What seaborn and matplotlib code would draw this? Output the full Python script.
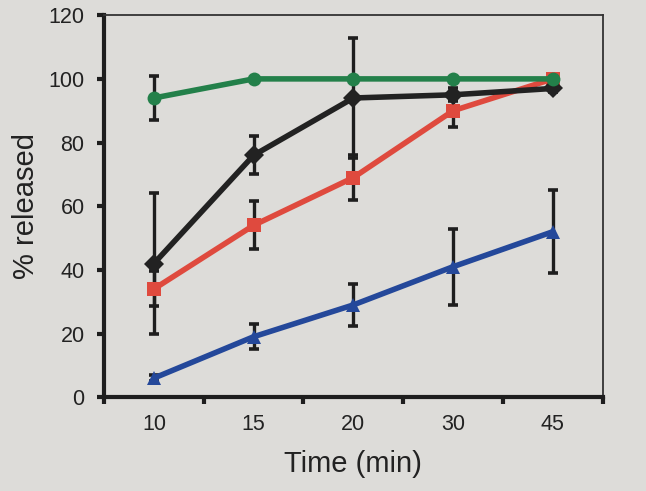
import matplotlib
matplotlib.use("Agg")
import matplotlib.pyplot as plt
import numpy as np
import pandas as pd
import seaborn as sns

# Sampling times (categorical x positions)
times = ["10", "15", "20", "30", "45"]

# Mean % released per formulation and its standard deviation
green_mean = [94, 100, 100, 100, 100]
green_sd = [7, 0, 0, 0, 0]
black_mean = [42, 76, 94, 95, 97]
black_sd = [22, 6, 19, 2, 1]
red_mean = [34, 54, 69, 90, 100]
red_sd = [5.5, 7.5, 7, 5, 1]
blue_mean = [6, 19, 29, 41, 52]
blue_sd = [1, 4, 6.5, 12, 13]

series = [
    ("A", red_mean, red_sd, "#df4a3e", "s"),
    ("B", black_mean, black_sd, "#222222", "D"),
    ("C", blue_mean, blue_sd, "#24489a", "^"),
    ("D", green_mean, green_sd, "#23804a", "o"),
]

rows = []
for name, mean, sd, color, marker in series:
    for i, (t, m, s) in enumerate(zip(times, mean, sd)):
        rows.append({"series": name, "pos": i, "time": t, "mean": m, "sd": s})
df = pd.DataFrame(rows)

sns.set_theme(style="ticks")
plt.rcParams["font.family"] = ["Liberation Sans", "DejaVu Sans"]

fig = plt.figure(figsize=(6.46, 4.91), dpi=100)
bg = "#dddcd9"
fig.patch.set_facecolor(bg)
ax = fig.add_axes([0.161, 0.191, 0.772, 0.778])
ax.set_facecolor(bg)

palette = {name: color for name, _, _, color, _ in series}
markers = {name: marker for name, _, _, _, marker in series}

# Error bars first, then lines with markers on top
for name, mean, sd, color, marker in series:
    sub = df[df["series"] == name]
    ax.errorbar(sub["pos"], sub["mean"], yerr=sub["sd"], fmt="none",
                ecolor="#1e1e1e", elinewidth=2.4, capsize=3.4, capthick=2.6,
                zorder=2)

sns.lineplot(data=df, x="pos", y="mean", hue="series", style="series",
             palette=palette, markers=markers, dashes=False,
             hue_order=[s[0] for s in series], style_order=[s[0] for s in series],
             linewidth=4, markersize=10, markeredgewidth=0,
             legend=False, ax=ax, zorder=3)

ax.set_xlim(-0.5, 4.5)
ax.set_ylim(0, 120)
ax.set_yticks(np.arange(0, 121, 20))
ax.set_xticks(range(len(times)))
ax.set_xticklabels(times)
ax.set_xticks(np.arange(-0.5, 4.6, 1.0), minor=True)
ax.tick_params(axis="x", which="major", length=0, labelsize=15.5, pad=12,
               colors="#222222")
ax.tick_params(axis="x", which="minor", length=5, width=3, color="#1e1e1e",
               direction="out")
ax.tick_params(axis="y", which="major", length=5, width=3, color="#1e1e1e",
               labelsize=15.5, pad=9, labelcolor="#222222")

for side in ["left", "bottom"]:
    ax.spines[side].set_linewidth(3.0)
    ax.spines[side].set_color("#1e1e1e")
for side in ["top", "right"]:
    ax.spines[side].set_visible(True)
    ax.spines[side].set_linewidth(1.3)
    ax.spines[side].set_color("#333333")

ax.set_xlabel("Time (min)", fontsize=21, color="#222222", labelpad=11)
ax.set_ylabel("% released", fontsize=21, color="#222222", labelpad=6)

fig.savefig("out.png", dpi=100, facecolor=bg)
